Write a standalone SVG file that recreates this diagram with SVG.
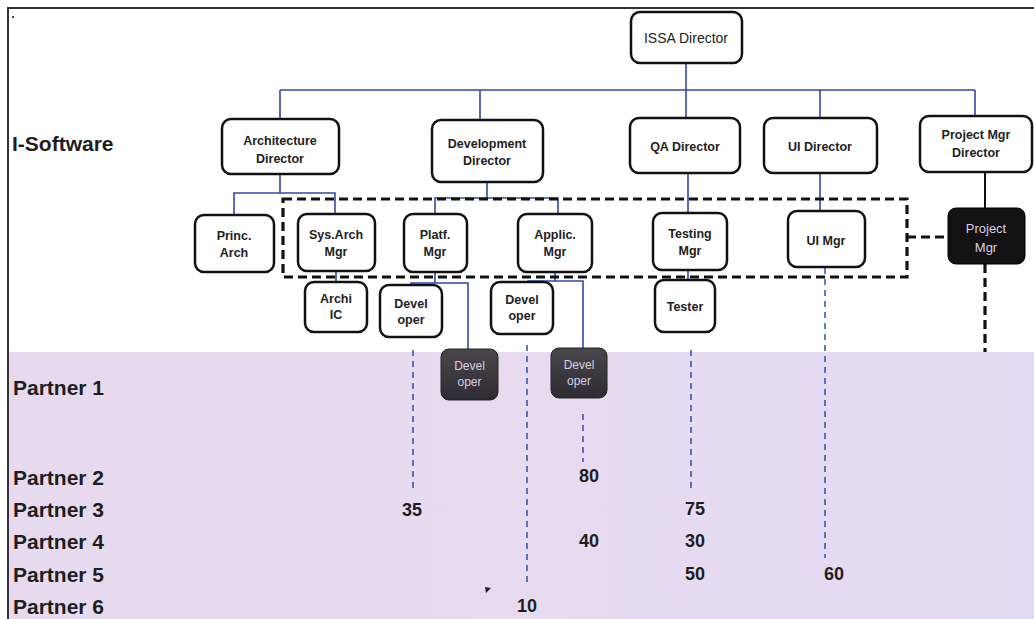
<svg xmlns="http://www.w3.org/2000/svg" width="1034" height="619" viewBox="0 0 1034 619">
<defs>
<linearGradient id="band" x1="0" y1="0" x2="1" y2="0">
<stop offset="0" stop-color="#e7daef"/>
<stop offset="0.5" stop-color="#e8dbf0"/>
<stop offset="1" stop-color="#e2daf2"/>
</linearGradient>
<linearGradient id="darkbox" x1="0" y1="0" x2="0" y2="1">
<stop offset="0" stop-color="#4a474c"/>
<stop offset="1" stop-color="#2e2c30"/>
</linearGradient>
<style>
.box{fill:#ffffff;stroke:#111;stroke-width:2.5}
.dark{fill:url(#darkbox);stroke:#222;stroke-width:1}
.black{fill:#121212;stroke:#000;stroke-width:1}
.lbl{font-family:"Liberation Sans",Arial,sans-serif;font-size:12.5px;font-weight:bold;fill:#222;text-anchor:middle}
.dlbl{font-family:"Liberation Sans",Arial,sans-serif;font-size:12px;fill:#d6cfe2;text-anchor:middle}
.big{font-family:"Liberation Sans",Arial,sans-serif;font-weight:bold;fill:#1e1e1e}
.num{font-family:"Liberation Sans",Arial,sans-serif;font-weight:bold;font-size:18px;fill:#1e1e1e;text-anchor:middle}
.blue{fill:none;stroke:#3446a8;stroke-width:1.6}
.bdash{fill:none;stroke:#3050b0;stroke-width:1.5;stroke-dasharray:6 5}
.kdash{fill:none;stroke:#111;stroke-width:3.2;stroke-dasharray:9 5}
.ksolid{fill:none;stroke:#111;stroke-width:2}
</style>
</defs>
<rect x="0" y="0" width="1034" height="619" fill="#ffffff"/>
<rect x="9" y="352" width="1025" height="267" fill="url(#band)"/>
<path d="M8,619 V8 H1034" fill="none" stroke="#333" stroke-width="2"/>
<rect x="12" y="16" width="2" height="2" fill="#444"/>
<path d="M485,587 L491,588 L486,593 Z" fill="#222"/>

<g id="labels">
<text class="big" x="12" y="151" font-size="21">I-Software</text>
<text class="big" x="13" y="395" font-size="21">Partner 1</text>
<text class="big" x="13" y="485" font-size="21">Partner 2</text>
<text class="big" x="13" y="517" font-size="21">Partner 3</text>
<text class="big" x="13" y="549" font-size="21">Partner 4</text>
<text class="big" x="13" y="582" font-size="21">Partner 5</text>
<text class="big" x="13" y="614" font-size="21">Partner 6</text>
<text class="num" x="412" y="516">35</text>
<text class="num" x="527" y="612">10</text>
<text class="num" x="589" y="482">80</text>
<text class="num" x="589" y="547">40</text>
<text class="num" x="695" y="515">75</text>
<text class="num" x="695" y="547">30</text>
<text class="num" x="695" y="580">50</text>
<text class="num" x="834" y="580">60</text>
</g>

<g id="connectors">
<path class="blue" d="M686,63 V118 M280,90 H975 M280,90 V119 M480,90 V120 M820,90 V118 M975,90 V116"/>
<path class="blue" d="M280,174 V193 M234,215 V193 H335 V214"/>
<path class="blue" d="M487,183 V198 M435,214 V198 H558 V214"/>
<path class="blue" d="M688,173 V213 M820,173 V211"/>
<path class="blue" d="M336,271 V284 M688,270 V288"/>
<path class="blue" d="M435,272 V283 M411,296 V283 H468 V353"/>
<path class="blue" d="M555,272 V281 M528,292 V281 H583 V355"/>
<path class="ksolid" d="M985,172 V208"/>
<rect class="kdash" x="283" y="199" width="624" height="78"/>
<path class="kdash" d="M907,237 H948 M985,264 V352"/>
<path class="bdash" d="M413,350 V492 M527,345 V582 M583,414 V462 M691,350 V492 M825,268 V558"/>
</g>

<g id="issa-director"><rect class="box" x="631" y="12" width="111" height="51" rx="9"/><text class="lbl" x="686" y="43" style="font-weight:normal;font-size:14px">ISSA Director</text></g>
<g id="architecture-director"><rect class="box" x="222" y="119" width="117" height="55" rx="9"/><text class="lbl" x="280" y="145">Architecture</text><text class="lbl" x="280" y="163">Director</text></g>
<g id="development-director"><rect class="box" x="432" y="120" width="111" height="62" rx="9"/><text class="lbl" x="487" y="148">Development</text><text class="lbl" x="487" y="165">Director</text></g>
<g id="qa-director"><rect class="box" x="630" y="118" width="110" height="55" rx="9"/><text class="lbl" x="685" y="151">QA Director</text></g>
<g id="ui-director"><rect class="box" x="764" y="118" width="113" height="55" rx="9"/><text class="lbl" x="820" y="151">UI Director</text></g>
<g id="project-mgr-director"><rect class="box" x="920" y="116" width="112" height="56" rx="9"/><text class="lbl" x="976" y="139">Project Mgr</text><text class="lbl" x="976" y="157">Director</text></g>

<g id="princ-arch"><rect class="box" x="195" y="215" width="79" height="57" rx="9"/><text class="lbl" x="234" y="240">Princ.</text><text class="lbl" x="234" y="257">Arch</text></g>
<g id="sys-arch-mgr"><rect class="box" x="298" y="214" width="77" height="57" rx="9"/><text class="lbl" x="336" y="239">Sys.Arch</text><text class="lbl" x="336" y="256">Mgr</text></g>
<g id="platf-mgr"><rect class="box" x="404" y="214" width="63" height="58" rx="9"/><text class="lbl" x="435" y="239">Platf.</text><text class="lbl" x="435" y="256">Mgr</text></g>
<g id="applic-mgr"><rect class="box" x="518" y="214" width="74" height="58" rx="9"/><text class="lbl" x="555" y="239">Applic.</text><text class="lbl" x="555" y="256">Mgr</text></g>
<g id="testing-mgr"><rect class="box" x="653" y="213" width="74" height="57" rx="9"/><text class="lbl" x="690" y="238">Testing</text><text class="lbl" x="690" y="255">Mgr</text></g>
<g id="ui-mgr"><rect class="box" x="788" y="211" width="77" height="56" rx="9"/><text class="lbl" x="826" y="245">UI Mgr</text></g>
<g id="project-mgr"><rect class="black" x="948" y="208" width="77" height="56" rx="8"/><text class="dlbl" x="986" y="233" style="font-size:13px">Project</text><text class="dlbl" x="986" y="252" style="font-size:13px">Mgr</text></g>

<g id="archi-ic"><rect class="box" x="305" y="282" width="62" height="50" rx="9"/><text class="lbl" x="336" y="303">Archi</text><text class="lbl" x="336" y="319">IC</text></g>
<g id="developer-platf"><rect class="box" x="380" y="285" width="62" height="52" rx="9"/><text class="lbl" x="411" y="308">Devel</text><text class="lbl" x="411" y="324">oper</text></g>
<g id="developer-applic"><rect class="box" x="491" y="282" width="62" height="52" rx="9"/><text class="lbl" x="522" y="304">Devel</text><text class="lbl" x="522" y="320">oper</text></g>
<g id="tester"><rect class="box" x="655" y="280" width="60" height="52" rx="9"/><text class="lbl" x="685" y="311">Tester</text></g>
<g id="developer-partner-1"><rect class="dark" x="441" y="349" width="57" height="51" rx="8"/><text class="dlbl" x="469.5" y="370">Devel</text><text class="dlbl" x="469.5" y="386">oper</text></g>
<g id="developer-partner-2"><rect class="dark" x="551" y="348" width="56" height="50" rx="8"/><text class="dlbl" x="579" y="369">Devel</text><text class="dlbl" x="579" y="385">oper</text></g>
</svg>
